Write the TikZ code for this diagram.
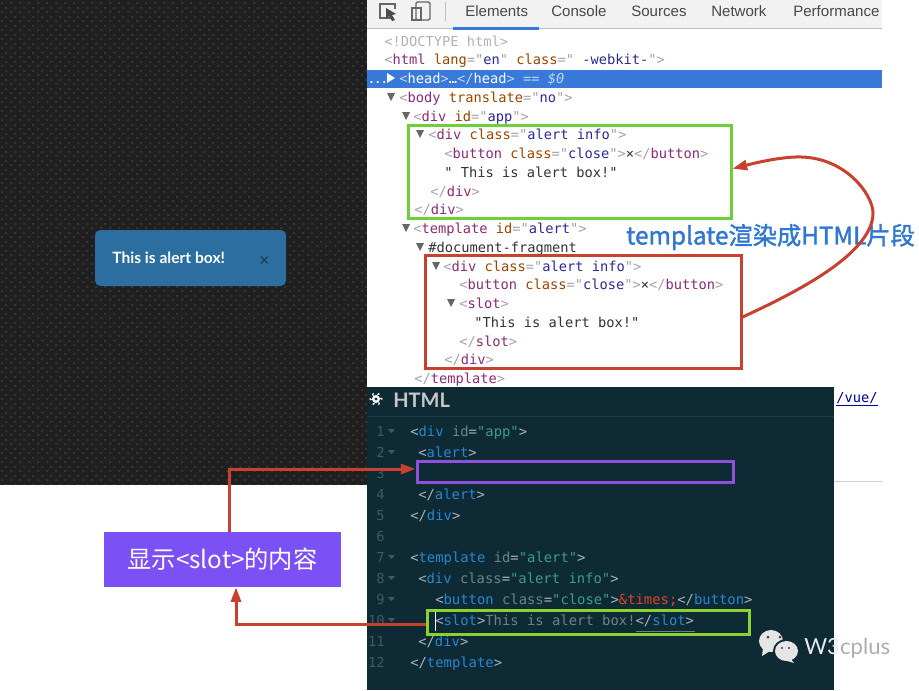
\documentclass[tikz,border=0pt]{standalone}
\usepackage{fontspec}
\setmainfont{Liberation Sans}
\setmonofont{DejaVu Sans Mono}
\newfontfamily\cjk{Noto Sans CJK SC}
\newfontfamily\cjkmed[FakeBold=1.5]{Noto Sans CJK SC}
\newfontfamily\lato{Lato}
\usetikzlibrary{arrows.meta,patterns}

\definecolor{panelgrey}{HTML}{1F1F1F}
\definecolor{dotgrey}{HTML}{343434}
\definecolor{alertblue}{HTML}{2B6E9F}
\definecolor{barblue}{HTML}{3879D9}
\definecolor{penblue}{HTML}{0D2A35}
\definecolor{numgrey}{HTML}{3F5C66}
\definecolor{linkred}{HTML}{C8412E}
\definecolor{boxgreen}{HTML}{6FCF3A}
\definecolor{limegreen}{HTML}{8BD12F}
\definecolor{boxpurple}{HTML}{9150DC}
\definecolor{labelpurple}{HTML}{7B50F5}
\definecolor{titleblue}{HTML}{2F77D0}

\pgfdeclarepatternformonly{paneldots}{\pgfqpoint{0pt}{0pt}}{\pgfqpoint{6.4pt}{6.8pt}}{\pgfqpoint{6.4pt}{6.8pt}}{
  \pgfpathrectangle{\pgfqpoint{0.8pt}{0.8pt}}{\pgfqpoint{1.9pt}{1.6pt}}
  \pgfpathrectangle{\pgfqpoint{4pt}{4.2pt}}{\pgfqpoint{1.9pt}{1.6pt}}
  \pgfusepath{fill}}

% devtools colours
\newcommand{\dg}[1]{\textcolor[HTML]{A8A0A8}{#1}}
\newcommand{\dt}[1]{\textcolor[HTML]{8A2A78}{#1}}
\newcommand{\da}[1]{\textcolor[HTML]{994500}{#1}}
\newcommand{\dv}[1]{\textcolor[HTML]{2A2A90}{#1}}
\newcommand{\dhl}[1]{\textcolor{white!70!barblue}{#1}}
% pen colours
\newcommand{\pg}[1]{\textcolor[HTML]{A9B4B8}{#1}}
\newcommand{\pt}[1]{\textcolor[HTML]{2A86D0}{#1}}
\newcommand{\pa}[1]{\textcolor[HTML]{6B8487}{#1}}
\newcommand{\pv}[1]{\textcolor[HTML]{3E9C88}{#1}}

\begin{document}
\begin{tikzpicture}[x=0.75pt, y=-0.75pt,
    dev line/.style={anchor=west, inner sep=0pt, text height=9.5pt, text depth=2pt, font=\ttfamily\fontsize{10.28}{12}\selectfont, text=black!80},
    pen line/.style={dev line, font=\ttfamily\fontsize{10.4}{12}\selectfont, text=white},
    line num/.style={dev line, anchor=east, text=numgrey},
    tab label/.style={anchor=base west, inner sep=0pt, font=\fontsize{11.3}{13}\selectfont, text=black!72},
    outline/.style={draw, line width=2.25pt, inner sep=0pt},
    link/.style={draw=linkred, line width=2.25pt, -{Triangle[length=11pt,width=7.5pt]}}]
  \useasboundingbox (0,0) rectangle (919,690);

  \fill[panelgrey] (0,0) rectangle (367,485);
  \fill[pattern=paneldots, pattern color=dotgrey] (0,0) rectangle (367,485);
  \fill[white] (0,485) rectangle (367,690);

  \fill[black!5] (367,0) rectangle (882,28);
  \draw[black!25] (367,28) -- (882,28);
  \fill[barblue] (453,27) rectangle (539,30);
  \fill[barblue] (367,70) rectangle (882,88);

  % toolbar icons
  \draw[black!60, line width=1pt] (392,18) -- (380,18) -- (380,4) -- (395,4) -- (395,9);
  \fill[black!70] (386,8) -- (396,14) -- (392,15) -- (395,20) -- (392,21) -- (389,16) -- (386,19) -- cycle;
  \draw[black!60, line width=1pt, rounded corners=1pt] (416,2) rectangle (430,20);
  \draw[black!60, line width=1pt] (412,8) rectangle (421,20);
  \draw[black!25] (445,2) -- (445,21);

  \node[tab label] (elements) at (465,16) {Elements};
  \node[tab label] (console) at (551,16) {Console};
  \node[tab label] (sources) at (631,16) {Sources};
  \node[tab label] (network) at (711,16) {Network};
  \node[tab label] (performance) at (793,16) {Performance};

  \node[dev line] (doctype) at (384,41) {\textcolor{black!30}{<!DOCTYPE html>}};
  \node[dev line] (html) at (384,59) {\dg{<}\dt{html} \da{lang}\dg{="}\dv{en}\dg{"} \da{class}\dg{=" }\dv{-webkit-}\dg{">}};
  \node[dev line, text=white] (dots) at (368,78) {\fontsize{8}{10}\selectfont\bfseries...};
  \node[dev line, text=white] (head) at (399,78) {\dhl{<}head\dhl{>}…\dhl{</}head\dhl{>} \dhl{==} \textit{\dhl{\$0}}};
  \node[dev line] (body) at (399,97) {\dg{<}\dt{body} \da{translate}\dg{="}\dv{no}\dg{">}};
  \node[dev line] (divapp) at (413,116) {\dg{<}\dt{div} \da{id}\dg{="}\dv{app}\dg{">}};
  \node[dev line] (divinfo) at (428,134) {\dg{<}\dt{div} \da{class}\dg{="}\dv{alert info}\dg{">}};
  \node[dev line] (button) at (444,153) {\dg{<}\dt{button} \da{class}\dg{="}\dv{close}\dg{">}×\dg{</}\dt{button}\dg{>}};
  \node[dev line] (alerttext) at (444,172) {" This is alert box!"};
  \node[dev line] (divend) at (430,191) {\dg{</}\dt{div}\dg{>}};
  \node[dev line] (append) at (414,209) {\dg{</}\dt{div}\dg{>}};
  \node[dev line] (template) at (413,228) {\dg{<}\dt{template} \da{id}\dg{="}\dv{alert}\dg{">}};
  \node[dev line] (fragment) at (428,247) {\#document-fragment};
  \node[dev line] (fragdiv) at (443,266) {\dg{<}\dt{div} \da{class}\dg{="}\dv{alert info}\dg{">}};
  \node[dev line] (fragbutton) at (459,284) {\dg{<}\dt{button} \da{class}\dg{="}\dv{close}\dg{">}×\dg{</}\dt{button}\dg{>}};
  \node[dev line] (slot) at (459,303) {\dg{<}\dt{slot}\dg{>}};
  \node[dev line] (slottext) at (474,322) {"This is alert box!"};
  \node[dev line] (slotend) at (459,341) {\dg{</}\dt{slot}\dg{>}};
  \node[dev line] (fragend) at (444,359) {\dg{</}\dt{div}\dg{>}};
  \node[dev line] (templateend) at (414,378) {\dg{</}\dt{template}\dg{>}};

  \foreach \x/\y in {391/97,406/116,420/134,406/228,420/247,436/266,451/303}
    \fill[black!60] (\x-4,\y-4) -- (\x+4,\y-4) -- (\x,\y+4) -- cycle;
  \fill[white] (387,73) -- (395,78) -- (387,83) -- cycle;

  \node[dev line, text=blue!60!black] (vue) at (836,397) {\underline{/vue/}};
  \draw[black!20] (834,481) -- (882,481);

  % left page with the alert
  \node[fill=alertblue, rounded corners=4pt, minimum width=191*.75pt, minimum height=56*.75pt, inner sep=0pt] (alertbox) at (190.5,258) {};
  \node[anchor=west, inner sep=0pt, text=white, font=\lato\bfseries\fontsize{11.7}{13}\selectfont] (alertlabel) at (112,258) {This is alert box!};
  \node[inner sep=0pt, text=black!45!alertblue, font=\fontsize{13.5}{14}\selectfont] (alertclose) at (264.5,261) {×};

  % pen editor
  \fill[penblue] (367,387) rectangle (834,690);
  \draw[white!8!penblue] (367,416) -- (834,416);
  \fill[white] (376,399) circle (4);
  \foreach \a in {0,60,...,300}
    \fill[white] (376,399) ++(\a-18:3.5) -- ++(\a:3) -- ++(\a+90:2.2) -- cycle;
  \fill[penblue] (376,399) circle (1.7);
  \node[anchor=west, inner sep=0pt, text=black!22, font=\lato\bfseries\fontsize{15}{17}\selectfont] (pentitle) at (393,400) {HTML};

  \foreach \n/\y in {1/431,2/452,3/473,4/494,5/515,6/536,7/557,8/578,9/599,10/620,11/641,12/662}
    \node[line num] (num\n) at (385,\y) {\n};
  \foreach \y in {431,452,557,578,599,620}
    \fill[numgrey] (388,\y-2) -- (395,\y-2) -- (391.5,\y+2) -- cycle;

  \node[pen line] (penapp) at (410,431) {\pg{<}\pt{div} \pa{id}\pg{=}\pv{"app"}\pg{>}};
  \node[pen line] (penalert) at (418,452) {\pg{<}\pt{alert}\pg{>}};
  \node[pen line] (penalertend) at (418,494) {\pg{</}\pt{alert}\pg{>}};
  \node[pen line] (penappend) at (410,515) {\pg{</}\pt{div}\pg{>}};
  \node[pen line] (pentemplate) at (410,557) {\pg{<}\pt{template} \pa{id}\pg{=}\pv{"alert"}\pg{>}};
  \node[pen line] (pendiv) at (418,578) {\pg{<}\pt{div} \pa{class}\pg{=}\pv{"alert info"}\pg{>}};
  \node[pen line] (penbutton) at (435,599) {\pg{<}\pt{button} \pa{class}\pg{=}\pv{"close"}\pg{>}\textcolor[HTML]{D9481F}{\&times;}\pg{</}\pt{button}\pg{>}};
  \node[pen line] (penslot) at (435,620) {\pg{<}\pt{slot}\pg{>}\pa{This is alert box!}\pg{</}\pt{slot}\pg{>}};
  \node[pen line] (pendivend) at (418,641) {\pg{</}\pt{div}\pg{>}};
  \node[pen line] (pentemplateend) at (410,662) {\pg{</}\pt{template}\pg{>}};
  \draw[white] (435,611) -- (435,631);
  \draw[white!40!penblue] (636,631) -- (695,631);

  % outlines
  \node[outline, draw=boxgreen, minimum width=323*.75pt, minimum height=93*.75pt] (greenbox) at (569.5,171.5) {};
  \node[outline, draw=linkred, minimum width=316*.75pt, minimum height=113*.75pt] (redbox) at (583,311.5) {};
  \node[outline, draw=boxpurple, minimum width=316*.75pt, minimum height=21*.75pt] (purplebox) at (575,471.5) {};
  \node[outline, draw=limegreen, minimum width=322*.75pt, minimum height=24*.75pt] (slotbox) at (588,622) {};

  \node[inner sep=0pt, fill=labelpurple, text=white, minimum width=237*.75pt, minimum height=55*.75pt, font=\cjk\fontsize{18.2}{20}\selectfont] (slotlabel) at (222.5,559.5) {显示<slot>的内容};
  \node[anchor=west, inner sep=0pt, text=titleblue, font=\cjkmed\fontsize{18.2}{20}\selectfont] (rendertitle) at (626,237) {template渲染成HTML片段};

  \coordinate (upcorner) at (229,469);
  \coordinate (downcorner) at (236,624);

  \draw[link] (slotlabel.north -| upcorner) -- (upcorner) -- (upcorner -| purplebox.west);
  \draw[link] (downcorner -| slotbox.west) -- (downcorner) -- (downcorner |- slotlabel.south);
  \draw[link] (redbox.-2.4) .. controls (790,295) and (873,255) .. (873,213)
    .. controls (873,195) and (845,155) .. (795,157)
    .. controls (775,158) and (755,163) .. (greenbox.1.6);

  % watermark
  \fill[black!10] (771,641) ellipse (12 and 11);
  \fill[black!10] (763,648) -- (762,656) -- (770,651) -- cycle;
  \fill[penblue] (786.5,651) ellipse (13.5 and 12);
  \fill[black!10] (786.5,651) ellipse (11.5 and 10);
  \fill[black!10] (790,658) -- (794,663) -- (784,660) -- cycle;
  \fill[black!75] (768,637) circle (1.5) (780,637) circle (1.5) (782,648) circle (1.2) (789,648) circle (1.2);
  \node[anchor=west, inner sep=0pt, text=black!8, font=\lato\fontsize{16.6}{18}\selectfont] (watermark) at (804,648) {W3\textcolor{black!32}{cplus}};
\end{tikzpicture}
\end{document}
